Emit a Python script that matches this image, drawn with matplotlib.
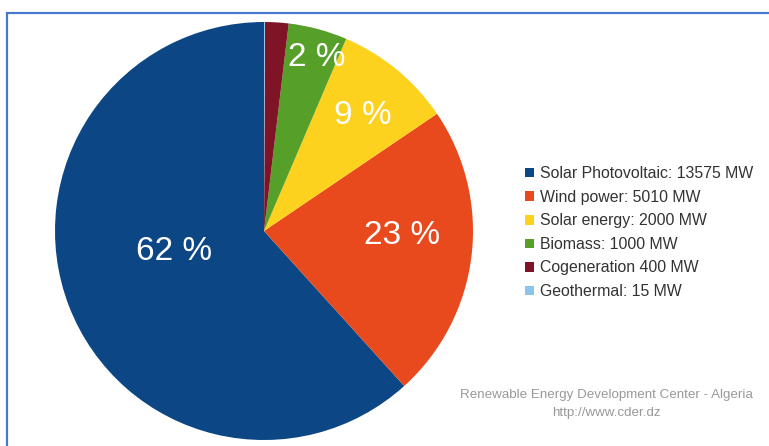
import numpy as np
import matplotlib.pyplot as plt
from matplotlib.patches import Rectangle, Patch

labels = ['Solar Photovoltaic: 13575 MW', 'Wind power: 5010 MW', 'Solar energy: 2000 MW',
          'Biomass: 1000 MW', 'Cogeneration 400 MW', 'Geothermal: 15 MW']
values = [13575, 5010, 2000, 1000, 400, 15]
pct_text = ['62 %', '23 %', '9 %', '2 %', '', '']
colors = ['#0c4684', '#e8491d', '#fdd21f', '#56a02a', '#7e1426', '#8cc4ec']

plt.rcParams['font.family'] = ['Liberation Sans', 'DejaVu Sans']

fig = plt.figure(figsize=(7.69, 4.46), dpi=100)
W, H = 769, 446

# blue frame around the picture (runs off right and bottom)
fig.patches.append(Rectangle((7 / W, -0.05), 1.2, 1 - 13 / H + 0.05, transform=fig.transFigure,
                             fill=False, edgecolor='#4a78cf', linewidth=1.6))

cx, cy, r = 264, 231, 209
ax = fig.add_axes([(cx - r) / W, (H - cy - r) / H, 2 * r / W, 2 * r / H])
wedges, _ = ax.pie(values, colors=colors, startangle=90, counterclock=True, radius=1,
                   wedgeprops=dict(linewidth=0))
ax.set_xlim(-1, 1)
ax.set_ylim(-1, 1)
ax.set_aspect('equal')
ax.axis('off')

# label placement: distance from centre and small angle shift from the wedge middle
dist = [0.44, 0.66, 0.73, 0.87]
shift = [-8, 5, -1, -2]
for w, t, d, s in zip(wedges, pct_text, dist, shift):
    ang = np.deg2rad((w.theta1 + w.theta2) / 2 + s)
    ax.text(d * np.cos(ang), d * np.sin(ang), t, color='white', fontsize=24,
            ha='center', va='center')

handles = [Patch(facecolor=c, edgecolor='none') for c in colors]
fig.legend(handles, labels, loc='upper left', bbox_to_anchor=(511 / W, 1 - 152 / H),
           frameon=False, fontsize=11.4, handlelength=0.55, handleheight=0.55,
           handletextpad=0.35, labelspacing=0.54, labelcolor='#333333')

fig.text(606 / W, 1 - 395 / H, 'Renewable Energy Development Center - Algeria',
         ha='center', va='center', fontsize=9.6, color='#999999')
fig.text(606 / W, 1 - 413 / H, 'http://www.cder.dz',
         ha='center', va='center', fontsize=9.6, color='#999999')

fig.savefig('out.png', dpi=100)
